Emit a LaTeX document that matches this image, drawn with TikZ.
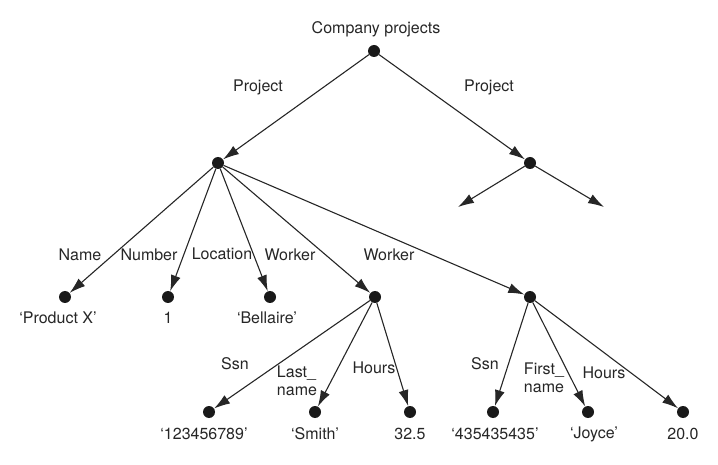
\documentclass[tikz,border=0pt]{standalone}
\usepackage{fontspec}
\setmainfont{TeX Gyre Heros}
\usetikzlibrary{arrows.meta, positioning}

\begin{document}
\begin{tikzpicture}[
        x=1pt, y=-1pt,
        dot/.style={circle, fill=black!90, inner sep=0pt, minimum size=12pt},
        lbl/.style={font=\fontsize{16}{18}\selectfont, text=black!85, inner sep=1pt, align=left},
        link/.style={-{Latex[length=16pt, width=10pt]}, line width=1.1pt, color=black!85}
    ]
        \useasboundingbox (0,0) rectangle (718,465);

        % --- ROOT ---
        \node[dot] (root) at (374,51) {};
        \node[lbl] (rootlbl) at (376,29) {Company projects};

        % --- PROJECTS ---
        \node[dot] (p1) at (218,163) {};
        \node[dot] (p2) at (530,163) {};
        \node[lbl] (p1lbl) at (258,87) {Project};
        \node[lbl] (p2lbl) at (489,87) {Project};
        \coordinate (p2a) at (458,207);
        \coordinate (p2b) at (604,207);

        % --- ATTRIBUTES OF PROJECT ---
        \node[dot] (name) at (65,297) {};
        \node[dot] (num) at (168,297) {};
        \node[dot] (loc) at (270,297) {};
        \node[dot] (w1) at (375,297) {};
        \node[dot] (w2) at (530,297) {};

        \node[lbl] (namelbl) at (80,255) {Name};
        \node[lbl] (numlbl) at (149,255) {Number};
        \node[lbl] (loclbl) at (222,254) {Location};
        \node[lbl] (w1lbl) at (290,255) {Worker};
        \node[lbl] (w2lbl) at (389,255) {Worker};

        \node[lbl] (nameval) at (58,318) {`Product X'};
        \node[lbl] (numval) at (168,318) {1};
        \node[lbl] (locval) at (267,318) {`Bellaire'};

        % --- WORKERS ---
        \node[dot] (ssn1) at (209,412) {};
        \node[dot] (lname) at (315,412) {};
        \node[dot] (hrs1) at (410,412) {};
        \node[dot] (ssn2) at (493,412) {};
        \node[dot] (fname) at (588,412) {};
        \node[dot] (hrs2) at (683,412) {};

        \node[lbl] (ssn1lbl) at (235,364) {Ssn};
        \node[lbl] (lnamelbl) at (297,381) {Last\_\\name};
        \node[lbl] (hrs1lbl) at (374,368) {Hours};
        \node[lbl] (ssn2lbl) at (485,364) {Ssn};
        \node[lbl] (fnamelbl) at (544,378) {First\_\\name};
        \node[lbl] (hrs2lbl) at (604,373) {Hours};

        \node[lbl] (ssn1val) at (204,434) {`123456789'};
        \node[lbl] (lnameval) at (315,434) {`Smith'};
        \node[lbl] (hrs1val) at (410,434) {32.5};
        \node[lbl] (ssn2val) at (495,434) {`435435435'};
        \node[lbl] (fnameval) at (594,434) {`Joyce'};
        \node[lbl] (hrs2val) at (683,434) {20.0};

        % --- CONNECTIONS ---
        \draw[link] (root) -- (p1);
        \draw[link] (root) -- (p2);
        \draw[link] (p2) -- (p2a);
        \draw[link] (p2) -- (p2b);

        \foreach \t in {name, num, loc, w1, w2}
            \draw[link] (p1) -- (\t);
        \foreach \t in {ssn1, lname, hrs1}
            \draw[link] (w1) -- (\t);
        \foreach \t in {ssn2, fname, hrs2}
            \draw[link] (w2) -- (\t);

    \end{tikzpicture}
\end{document}
